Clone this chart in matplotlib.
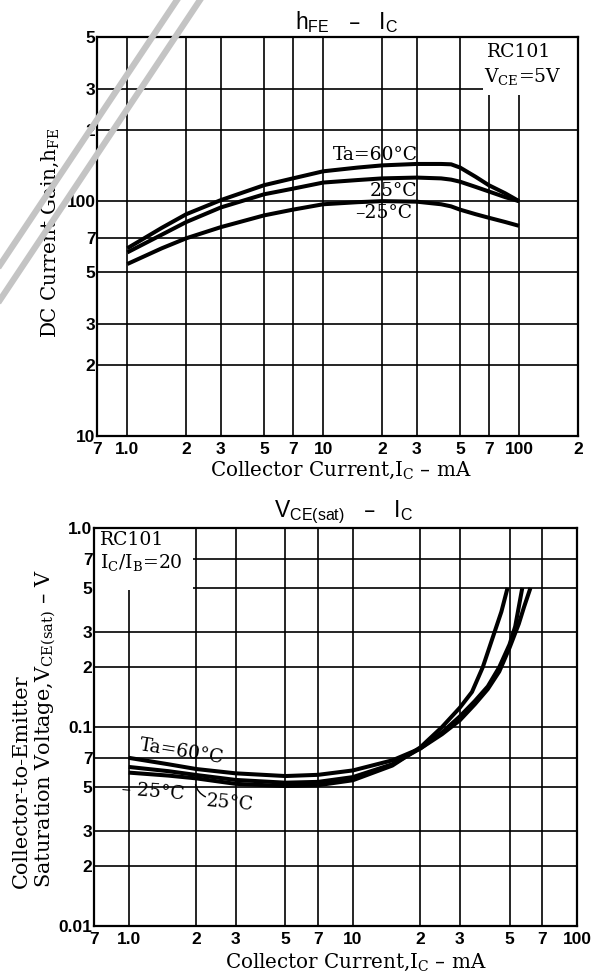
"""hFE - IC and VCE(sat) - IC characteristic curves for the RC101 transistor."""

import matplotlib

matplotlib.use("Agg")
import matplotlib.pyplot as plt
from matplotlib.lines import Line2D
from matplotlib.patches import Rectangle

# --- data ------------------------------------------------------------------
# hFE vs IC, VCE = 5 V
IC_HFE = [1.0, 1.5, 2, 3, 5, 7, 10, 15, 20, 30, 40, 45, 50, 60, 70, 85, 100]
HFE_60 = [63, 77, 88, 101, 117, 125, 134, 139, 142, 144, 144, 143.5, 139, 127, 117, 108, 100]
HFE_25 = [60.5, 72, 81.5, 94, 107, 113, 120, 123, 125, 126, 125, 123.5, 121, 115, 110, 104, 100]
HFE_M25 = [54, 63, 69.5, 77.5, 87, 92, 97, 99, 100, 99.5, 97, 95, 92, 88, 85, 81.5, 78.5]

# VCE(sat) vs IC, IC/IB = 20
IC_V60 = [1.0, 1.5, 2, 3, 5, 7, 10, 15, 20, 25, 30, 35, 40, 45, 50, 55, 58, 62]
V_60 = [0.070, 0.065, 0.0615, 0.0585, 0.0567, 0.0575, 0.0605, 0.068, 0.078,
        0.092, 0.108, 0.13, 0.155, 0.19, 0.25, 0.33, 0.40, 0.50]
IC_V25 = [1.0, 1.5, 2, 3, 5, 7, 10, 15, 20, 25, 30, 35, 40, 45, 50, 53, 57]
V_25 = [0.063, 0.060, 0.0574, 0.0542, 0.0525, 0.053, 0.056, 0.065, 0.078,
        0.094, 0.113, 0.135, 0.16, 0.20, 0.26, 0.32, 0.50]
IC_VM25 = [1.0, 1.5, 2, 3, 5, 7, 10, 15, 20, 25, 30, 34, 38, 42, 46, 49]
V_M25 = [0.059, 0.057, 0.0552, 0.0518, 0.0505, 0.051, 0.054, 0.064, 0.079,
         0.10, 0.125, 0.15, 0.20, 0.28, 0.38, 0.50]

# grid / tick labels
HFE_XTICKS = [0.7, 1, 2, 3, 5, 7, 10, 20, 30, 50, 70, 100, 200]
HFE_XLABELS = ["7", "1.0", "2", "3", "5", "7", "10", "2", "3", "5", "7", "100", "2"]
HFE_YTICKS = [10, 20, 30, 50, 70, 100, 200, 300, 500]
HFE_YLABELS = ["10", "2", "3", "5", "7", "100", "2", "3", "5"]

VCE_XTICKS = [0.7, 1, 2, 3, 5, 7, 10, 20, 30, 50, 70, 100]
VCE_XLABELS = ["7", "1.0", "2", "3", "5", "7", "10", "2", "3", "5", "7", "100"]
VCE_YTICKS = [0.01, 0.02, 0.03, 0.05, 0.07, 0.1, 0.2, 0.3, 0.5, 0.7, 1.0]
VCE_YLABELS = ["0.01", "2", "3", "5", "7", "0.1", "2", "3", "5", "7", "1.0"]

W, H = 597, 974
SERIF = "DejaVu Serif"
SANS = "Liberation Sans"
TICK_FONT = dict(family=SANS, weight="bold", size=12.5)
LABEL_SIZE = 14.3
NOTE_SIZE = 13.5
CURVE_LW = 2.9


def fig_xy(px, py):
    return px / W, 1 - py / H


def setup_axes(ax, xticks, xlabels, yticks, ylabels, xlim, ylim):
    ax.set_xscale("log")
    ax.set_yscale("log")
    ax.set_xlim(*xlim)
    ax.set_ylim(*ylim)
    ax.set_xticks(xticks)
    ax.set_xticklabels(xlabels, fontdict=TICK_FONT)
    ax.set_yticks(yticks)
    ax.set_yticklabels(ylabels, fontdict=TICK_FONT)
    ax.minorticks_off()
    ax.tick_params(length=0, pad=1)
    ax.tick_params(axis="x", pad=4)
    ax.set_axisbelow(True)
    ax.grid(True, color="black", lw=1.2)
    for sp in ax.spines.values():
        sp.set_linewidth(1.6)


def main() -> None:
    fig = plt.figure(figsize=(W / 100, H / 100), dpi=100)

    # --- hFE - IC ----------------------------------------------------------
    ax1 = fig.add_axes([97 / W, 1 - 436 / H, 481 / W, 399 / H])
    setup_axes(ax1, HFE_XTICKS, HFE_XLABELS, HFE_YTICKS, HFE_YLABELS, (0.7, 200), (10, 500))
    for y in (HFE_60, HFE_25, HFE_M25):
        ax1.plot(IC_HFE, y, color="black", lw=CURVE_LW, solid_capstyle="butt", zorder=3)
    ax1.add_patch(Rectangle((0.802, 0.855), 0.2, 0.15, transform=ax1.transAxes,
                            facecolor="white", edgecolor="none", zorder=1.5))
    ax1.text(0.811, 0.962, "RC101", transform=ax1.transAxes, family=SERIF, size=NOTE_SIZE,
             va="center", ha="left", zorder=4)
    ax1.text(0.804, 0.898, r"V$_\mathregular{CE}$=5V", transform=ax1.transAxes,
             family=SERIF, size=NOTE_SIZE, va="center", ha="left", zorder=4)
    ax1.text(30.4, 157, "Ta=60°C", family=SERIF, size=NOTE_SIZE, ha="right", va="center", zorder=4)
    ax1.text(30.4, 111, "25°C", family=SERIF, size=NOTE_SIZE, ha="right", va="center", zorder=4)
    ax1.text(28.6, 89, "–25°C", family=SERIF, size=NOTE_SIZE, ha="right", va="center", zorder=4)

    fig.text(*fig_xy(347, 22), r"h$_\mathregular{FE}$   –   I$_\mathregular{C}$",
             family=SANS, size=16.5, ha="center", va="center")
    fig.text(*fig_xy(341, 470), r"Collector Current,I$_\mathregular{C}$ – mA",
             family=SERIF, size=LABEL_SIZE, ha="center", va="center")
    fig.text(*fig_xy(50, 233), r"DC Current Gain,h$_\mathregular{FE}$",
             family=SERIF, size=LABEL_SIZE, ha="center", va="center", rotation=90)

    # --- VCE(sat) - IC -----------------------------------------------------
    ax2 = fig.add_axes([94 / W, 1 - 926 / H, 483 / W, 398 / H])
    setup_axes(ax2, VCE_XTICKS, VCE_XLABELS, VCE_YTICKS, VCE_YLABELS, (0.7, 100), (0.01, 1.0))
    for x, y in ((IC_V60, V_60), (IC_V25, V_25), (IC_VM25, V_M25)):
        ax2.plot(x, y, color="black", lw=CURVE_LW, solid_capstyle="butt", zorder=3)
    ax2.add_patch(Rectangle((0, 0.844), 0.205, 0.16, transform=ax2.transAxes,
                            facecolor="white", edgecolor="none", zorder=1.5))
    ax2.text(0.012, 0.970, "RC101", transform=ax2.transAxes, family=SERIF, size=NOTE_SIZE,
             va="center", ha="left", zorder=4)
    ax2.text(0.012, 0.912, r"I$_\mathregular{C}$/I$_\mathregular{B}$=20",
             transform=ax2.transAxes, family=SERIF, size=NOTE_SIZE, va="center", ha="left", zorder=4)
    ax2.text(0.182, 0.437, "Ta=60°C", transform=ax2.transAxes, family=SERIF, size=NOTE_SIZE,
             ha="center", va="center", rotation=-9, zorder=4)
    ax2.text(0.122, 0.338, "– 25°C", transform=ax2.transAxes, family=SERIF, size=NOTE_SIZE,
             ha="center", va="center", rotation=-5, zorder=4)
    ax2.text(0.282, 0.308, "25°C", transform=ax2.transAxes, family=SERIF, size=NOTE_SIZE,
             ha="center", va="center", rotation=-5, zorder=4)
    ax2.annotate("", xy=(0.209, 0.362), xytext=(0.236, 0.322), xycoords="axes fraction",
                 arrowprops=dict(arrowstyle="-", lw=1.0, color="black",
                                 connectionstyle="arc3,rad=-0.3"))

    fig.text(*fig_xy(344, 512), r"V$_\mathregular{CE(sat)}$   –   I$_\mathregular{C}$",
             family=SANS, size=16.5, ha="center", va="center")
    fig.text(*fig_xy(356, 962), r"Collector Current,I$_\mathregular{C}$ – mA",
             family=SERIF, size=LABEL_SIZE, ha="center", va="center")
    fig.text(*fig_xy(21, 888), "Collector-to-Emitter",
             family=SERIF, size=15, ha="center", va="bottom", rotation=90)
    fig.text(*fig_xy(46, 888), r"Saturation Voltage,V$_\mathregular{CE(sat)}$ – V",
             family=SERIF, size=15, ha="center", va="bottom", rotation=90)

    # grey watermark stripes across the upper-left corner
    for (x0, y0), (x1, y1) in (((177, 0), (0, 265)), ((200, 0), (0, 300))):
        fig.add_artist(Line2D([x0 / W, x1 / W], [1 - y0 / H, 1 - y1 / H],
                              transform=fig.transFigure, color="#c4c4c4", lw=4.5, zorder=10))

    fig.savefig("out.png", dpi=100)


if __name__ == "__main__":
    main()
